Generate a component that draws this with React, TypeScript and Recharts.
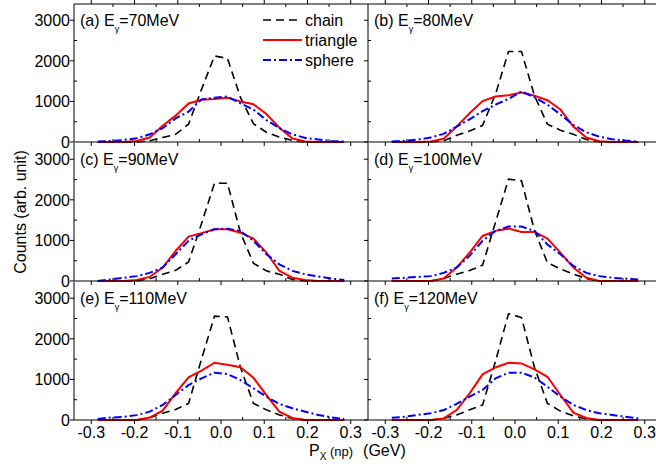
import { LineChart, Line, XAxis, YAxis } from 'recharts';

// P_x bin centres (GeV)
const px = [-0.285, -0.255, -0.225, -0.195, -0.165, -0.135, -0.105, -0.075, -0.045, -0.015, 0.015, 0.045, 0.075, 0.105, 0.135, 0.165, 0.195, 0.225, 0.255, 0.285];

const tags = ['a', 'b', 'c', 'd', 'e', 'f'];
const energies = ['70', '80', '90', '100', '110', '120'];

const chainA = [0, 0, 0, 0, 30, 110, 190, 440, 1300, 2120, 2060, 1100, 450, 240, 120, 40, 0, 0, 0, 0];
const triangleA = [0, 0, 0, 25, 110, 400, 650, 950, 1040, 1060, 1090, 1000, 930, 690, 350, 90, 10, 0, 0, 0];
const sphereA = [10, 25, 50, 90, 190, 340, 580, 750, 1050, 1090, 1120, 950, 800, 540, 340, 190, 100, 60, 25, 10];

const chainB = [0, 0, 0, 5, 30, 165, 270, 410, 1180, 2230, 2230, 1140, 440, 290, 190, 60, 5, 0, 0, 0];
const triangleB = [0, 0, 0, 10, 80, 380, 710, 1010, 1120, 1150, 1220, 1140, 1030, 800, 380, 110, 20, 0, 0, 0];
const sphereB = [10, 30, 60, 110, 200, 380, 560, 760, 920, 1060, 1250, 1100, 920, 680, 420, 240, 130, 70, 35, 10];

const chainC = [0, 0, 0, 0, 58, 165, 263, 470, 1415, 2410, 2410, 1190, 436, 250, 165, 40, 0, 0, 0, 0];
const triangleC = [0, 0, 0, 25, 100, 330, 740, 1095, 1180, 1275, 1275, 1190, 1045, 700, 250, 80, 25, 0, 0, 0];
const sphereC = [0, 40, 80, 120, 200, 330, 660, 990, 1150, 1275, 1290, 1230, 990, 660, 410, 250, 165, 110, 60, 25];

const chainD = [0, 0, 0, 0, 60, 165, 260, 390, 1450, 2510, 2470, 1250, 450, 300, 170, 60, 0, 0, 0, 0];
const triangleD = [0, 0, 0, 0, 60, 330, 700, 1110, 1235, 1290, 1210, 1210, 1045, 700, 330, 80, 0, 0, 0, 0];
const sphereD = [60, 80, 100, 120, 200, 330, 620, 990, 1235, 1340, 1340, 1235, 900, 660, 370, 200, 120, 80, 60, 40];

const chainE = [0, 0, 0, 0, 57, 164, 260, 410, 1500, 2560, 2540, 1300, 410, 250, 125, 40, 0, 0, 0, 0];
const triangleE = [0, 0, 0, 0, 60, 230, 660, 1050, 1215, 1410, 1360, 1300, 1040, 615, 205, 50, 0, 0, 0, 0];
const sphereE = [25, 60, 80, 120, 205, 370, 615, 860, 1025, 1165, 1130, 985, 780, 575, 395, 290, 205, 125, 65, 25];

const chainF = [0, 0, 0, 0, 40, 125, 250, 370, 1450, 2620, 2525, 1300, 410, 220, 100, 30, 0, 0, 0, 0];
const triangleF = [0, 0, 0, 0, 40, 245, 655, 1125, 1295, 1410, 1395, 1245, 1065, 615, 180, 50, 0, 0, 0, 0];
const sphereF = [55, 80, 125, 165, 245, 395, 575, 740, 1025, 1165, 1165, 1050, 820, 575, 370, 245, 165, 125, 80, 40];

const chains = [chainA, chainB, chainC, chainD, chainE, chainF];
const triangles = [triangleA, triangleB, triangleC, triangleD, triangleE, triangleF];
const spheres = [sphereA, sphereB, sphereC, sphereD, sphereE, sphereF];

const xTicks = [-0.3, -0.25, -0.2, -0.15, -0.1, -0.05, 0, 0.05, 0.1, 0.15, 0.2, 0.25, 0.3];
const yTicks = [0, 500, 1000, 1500, 2000, 2500, 3000];

const FONT = '"Liberation Sans", Arial, sans-serif';
const W = 680;
const H = 469;
const PLOT_W = 294;
const PLOT_H = 138;
const ROW_TOP = [4, 143, 282];
const COL_LEFT = [74, 368];

const series = [
  { key: 'chain', color: '#000000', dash: '8 5', width: 1.6 },
  { key: 'triangle', color: '#ff0000', dash: undefined, width: 2 },
  { key: 'sphere', color: '#0000ff', dash: '8 3 2 3', width: 2 },
];

function XTick(props: any) {
  const { x, y, payload, showLabel, top } = props;
  const v = payload.value;
  const major = Math.abs(Math.round(v * 100)) % 10 === 0;
  if (top) {
    return <line x1={x} x2={x} y1={y} y2={major ? y - 4 : y + 3} stroke="#000" />;
  }
  return (
    <g>
      <line x1={x} x2={x} y1={y} y2={major ? y + 4 : y - 3} stroke="#000" />
      {showLabel && major && (
        <text x={x} y={y + 18} textAnchor="middle" fontSize={16} fontFamily={FONT} fill="#000">
          {v.toFixed(1)}
        </text>
      )}
    </g>
  );
}

function YTick(props: any) {
  const { x, y, payload, showLabel } = props;
  const v = payload.value;
  const major = v % 1000 === 0;
  return (
    <g>
      <line x1={x} x2={major ? x - 4 : x + 3} y1={y} y2={y} stroke="#000" />
      {showLabel && major && (
        <text x={x - 4} y={y + 6} textAnchor="end" fontSize={16} fontFamily={FONT} fill="#000">
          {v}
        </text>
      )}
    </g>
  );
}

function Panel({ idx }: { idx: number }) {
  const col = idx % 2;
  const row = Math.floor(idx / 2);
  const left = COL_LEFT[col];
  const top = ROW_TOP[row];
  const topAxis = row === 0 ? 4 : 0;
  const data = px.map((x, i) => ({
    x,
    chain: chains[idx][i],
    triangle: triangles[idx][i],
    sphere: spheres[idx][i],
  }));
  return (
    <div style={{ position: 'absolute', left: 0, top: 0 }}>
      <LineChart
        width={W}
        height={H}
        data={data}
        margin={{ top: top - topAxis, left: left - 60, right: W - left - PLOT_W, bottom: H - top - PLOT_H - 30 }}
      >
        <XAxis
          dataKey="x"
          type="number"
          domain={[-0.34, 0.34]}
          ticks={xTicks}
          interval={0}
          height={30}
          tickSize={0}
          tickMargin={0}
          axisLine={{ stroke: '#000' }}
          tick={(p: any) => <XTick {...p} showLabel={row === 2} />}
        />
        {row === 0 && (
          <XAxis
            xAxisId="top"
            orientation="top"
            dataKey="x"
            type="number"
            domain={[-0.34, 0.34]}
            ticks={xTicks}
            interval={0}
            height={topAxis}
            tickSize={0}
            tickMargin={0}
            axisLine={{ stroke: '#000' }}
            tick={(p: any) => <XTick {...p} top />}
          />
        )}
        <YAxis
          type="number"
          domain={[0, 3400]}
          ticks={yTicks}
          interval={0}
          width={60}
          tickSize={0}
          tickMargin={0}
          axisLine={{ stroke: '#000' }}
          tick={(p: any) => <YTick {...p} showLabel={col === 0} />}
        />
        {series.map((s) => (
          <Line
            key={s.key}
            type="linear"
            dataKey={s.key}
            stroke={s.color}
            strokeWidth={s.width}
            strokeDasharray={s.dash}
            dot={false}
            isAnimationActive={false}
          />
        ))}
      </LineChart>
    </div>
  );
}

export default function App() {
  return (
    <div style={{ position: 'absolute', left: 0, top: 0, width: 656, height: 469, overflow: 'hidden', background: '#fff' }}>
      {tags.map((_, i) => (
        <Panel key={i} idx={i} />
      ))}
      <svg width={656} height={469} style={{ position: 'absolute', left: 0, top: 0, pointerEvents: 'none' }}>
        {series.map((s, i) => (
          <g key={s.key}>
            <line x1={263} x2={302} y1={20 + i * 20} y2={20 + i * 20} stroke={s.color} strokeWidth={s.width} strokeDasharray={s.dash} />
            <text x={305} y={26 + i * 20} fontSize={16} fontFamily={FONT} fill="#000">{s.key}</text>
          </g>
        ))}
        {tags.map((t, i) => {
          const x = COL_LEFT[i % 2] + 6;
          const y = ROW_TOP[Math.floor(i / 2)] + 22;
          return (
            <text key={t} x={x} y={y} fontSize={16} fontFamily={FONT} fill="#000">
              ({t}) E
              <tspan fontSize={9} dy={6}>γ</tspan>
              <tspan dy={-6}>={energies[i]}MeV</tspan>
            </text>
          );
        })}
        <text
          x={0}
          y={0}
          transform="translate(26,212) rotate(-90)"
          textAnchor="middle"
          fontSize={16}
          fontFamily={FONT}
          fill="#000"
        >
          Counts (arb. unit)
        </text>
        <text x={309} y={456} fontSize={16} fontFamily={FONT} fill="#000">
          P<tspan fontSize={10} dy={4}>X</tspan>
          <tspan fontSize={13} dy={-4}> (np)</tspan>
          <tspan dx={10}>(GeV)</tspan>
        </text>
      </svg>
    </div>
  );
}
